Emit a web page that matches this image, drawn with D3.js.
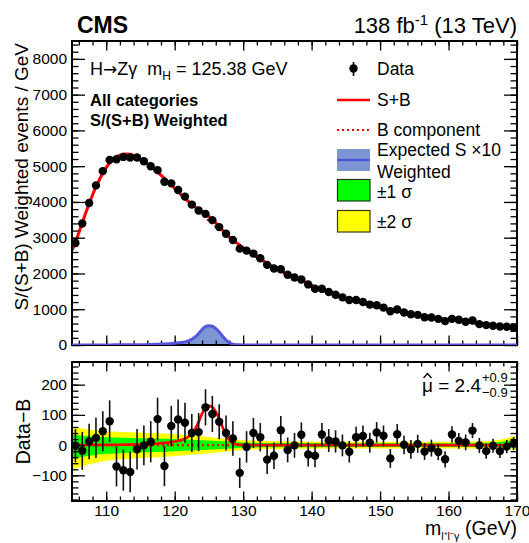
<!DOCTYPE html>
<html><head><meta charset="utf-8">
<script src="https://cdn.jsdelivr.net/npm/d3@7"></script>
<style>
body{margin:0;background:#fff}
svg{display:block}
text{font-family:"Liberation Sans",Arial,Helvetica,sans-serif;fill:#000}
</style>
</head><body>
<svg id="c" width="529" height="543"></svg>
<script>
// ---------------- data ----------------
const binCenters = [105.5,106.5,107.5,108.5,109.5,110.5,111.5,112.5,113.5,114.5,115.5,116.5,117.5,118.5,119.5,120.5,121.5,122.5,123.5,124.5,125.5,126.5,127.5,128.5,129.5,130.5,131.5,132.5,133.5,134.5,135.5,136.5,137.5,138.5,139.5,140.5,141.5,142.5,143.5,144.5,145.5,146.5,147.5,148.5,149.5,150.5,151.5,152.5,153.5,154.5,155.5,156.5,157.5,158.5,159.5,160.5,161.5,162.5,163.5,164.5,165.5,166.5,167.5,168.5,169.5];
const weightedEvents = [2852,3398,3972,4463,4861,5176,5194,5259,5241,5241,5139,5000,4889,4565,4519,4333,4148,3926,3759,3667,3491,3296,3111,2935,2694,2639,2556,2426,2241,2139,2120,1963,1889,1833,1694,1574,1574,1481,1407,1333,1259,1259,1204,1130,1111,1046,944,991,907,861,843,778,769,731,667,731,704,648,685,583,556,537,519,509,491];
const dataMinusB = [-2,-19,12,24,46,79,-71,-83,-89,-14,-1,11,86,-69,63,85,74,40,43,125,103,77,40,22,-92,-6,40,26,-48,-35,49,-16,-1,34,-31,-35,35,15,12,-1,-22,26,30,8,42,31,-44,36,1,-14,4,-21,-10,-23,-47,35,14,9,48,-1,-20,-2,-20,-5,5];
const dataErr = [55,63,59,67,66,69,66,68,67,67,66,68,71,67,67,66,66,63,63,60,60,58,58,57,50,52,50,47,48,44,47,41,41,41,40,38,38,38,37,36,36,35,35,33,34,34,31,34,31,31,30,28,28,27,27,27,26,26,25,25,25,23,23,22,22];

// fitted curves
const curveMass = [105,105.5,106,106.5,107,107.5,108,108.5,109,109.5,110,110.5,111,111.5,112,112.5,113,113.5,114,114.5,115,115.5,116,116.5,117,117.5,118,118.5,119,119.5,120,120.5,121,121.5,122,122.5,123,123.5,124,124.5,125,125.5,126,126.5,127,127.5,128,128.5,129,129.5,130,131,132,133,134,135,136,137,138,139,140,142,144,146,148,150,152,154,156,158,160,162,164,166,168,170];
const bkgFit = [2650,2860,3140,3410,3690,3950,4195,4420,4620,4800,4962,5095,5195,5262,5305,5330,5340,5330,5300,5258,5200,5140,5070,4990,4912,4830,4742,4650,4556,4460,4365,4270,4175,4080,3987,3895,3806,3720,3634,3550,3467,3385,3304,3225,3149,3075,3002,2930,2860,2790,2720,2580,2458,2345,2232,2122,2025,1935,1845,1762,1670,1502,1365,1255,1148,1045,968,890,818,765,705,650,608,560,526,482];
const sigExp10 = [1,1,1,1,1,2,2,2,2,3,3,3,4,4,5,5,6,6,7,8,9,10,11,15,18,22,26,30,35,42,50,60,72,88,115,160,225,320,435,512,540,525,460,365,245,140,65,25,9,4,2,1,0,0,0,0,0,0,0,0,0,0,0,0,0,0,0,0,0,0,0,0,0,0,0,0];
const muHat = 2.4;

// background uncertainty bands in Data-B panel
const bandMass = [105,107.5,110,112.5,115,117.5,120,122.5,125,127.5,130,135,140,145,150,155,160,165,167.5,170];
const band2Up = [60,52,46,43,41,39,36,32,27,21,16,13,12,11,11,11,11,13,18,32];
const band2Dn = [80,63,52,46,43,41,36,32,27,21,16,13,12,11,11,11,11,12,13,15];
const band1Up = [35,29,26,24,23,22,20,18,15,12,9,7,7,6,6,6,6,7,10,19];
const band1Dn = [45,35,29,26,24,23,20,18,15,12,9,7,7,6,6,6,6,6,7,9];

const xMajorTicks = [110,120,130,140,150,160,170];
const yTopTicks = [0,1000,2000,3000,4000,5000,6000,7000,8000];
const yBotTicks = [-100,0,100,200];

// ---------------- layout ----------------
const L=72,R=517,T1=41,B1=345,T2=362,B2=501;
const svg = d3.select("#c");
const x = d3.scaleLinear().domain([105,170]).range([L,R]);
const y1 = d3.scaleLinear().domain([0,8500]).range([B1,T1]);
const y2 = d3.scaleLinear().domain([-185,275]).range([B2,T2]);

const defs = svg.append("defs");
defs.append("clipPath").attr("id","cp1").append("rect").attr("x",L).attr("y",T1).attr("width",R-L).attr("height",B1-T1);
defs.append("clipPath").attr("id","cp2").append("rect").attr("x",L).attr("y",T2).attr("width",R-L).attr("height",B2-T2);

const red="#ff0000", sigLine="#5555dd", sigFill="#7b96d3";

// ---------------- top panel ----------------
const g1 = svg.append("g").attr("clip-path","url(#cp1)");
g1.append("path").datum(sigExp10)
  .attr("d", d3.area().x((d,i)=>x(curveMass[i])).y0(y1(0)).y1(d=>y1(d)).curve(d3.curveMonotoneX))
  .attr("fill",sigFill);
g1.append("path").datum(bkgFit)
  .attr("d", d3.line().x((d,i)=>x(curveMass[i])).y(d=>y1(d)).curve(d3.curveMonotoneX))
  .attr("fill","none").attr("stroke",red).attr("stroke-width",2).attr("stroke-dasharray","2,3");
g1.append("path").datum(bkgFit.map((b,i)=>b+sigExp10[i]*muHat/10))
  .attr("d", d3.line().x((d,i)=>x(curveMass[i])).y(d=>y1(d)).curve(d3.curveMonotoneX))
  .attr("fill","none").attr("stroke",red).attr("stroke-width",3);
g1.selectAll("line.eb").data(weightedEvents).join("line")
  .attr("x1",(d,i)=>x(binCenters[i])).attr("x2",(d,i)=>x(binCenters[i]))
  .attr("y1",(d,i)=>y1(d+dataErr[i])).attr("y2",(d,i)=>y1(d-dataErr[i]))
  .attr("stroke","#000").attr("stroke-width",1.6);
g1.selectAll("circle").data(weightedEvents).join("circle")
  .attr("cx",(d,i)=>x(binCenters[i])).attr("cy",d=>y1(d)).attr("r",4.2).attr("fill","#000");

// ---------------- bottom panel ----------------
const g2 = svg.append("g").attr("clip-path","url(#cp2)");
g2.append("path").datum(bandMass)
  .attr("d", d3.area().x(d=>x(d)).y0((d,i)=>y2(-band2Dn[i])).y1((d,i)=>y2(band2Up[i])).curve(d3.curveMonotoneX))
  .attr("fill","#ffff00");
g2.append("path").datum(bandMass)
  .attr("d", d3.area().x(d=>x(d)).y0((d,i)=>y2(-band1Dn[i])).y1((d,i)=>y2(band1Up[i])).curve(d3.curveMonotoneX))
  .attr("fill","#00ff00");
g2.append("path").datum(curveMass)
  .attr("d", d3.line().x(d=>x(d)).y(()=>y2(0)))
  .attr("fill","none").attr("stroke",red).attr("stroke-width",2.2).attr("stroke-dasharray","2,3");
g2.append("path").datum(sigExp10.map(s=>s*muHat/10))
  .attr("d", d3.line().x((d,i)=>x(curveMass[i])).y(d=>y2(d)).curve(d3.curveMonotoneX))
  .attr("fill","none").attr("stroke",red).attr("stroke-width",2.7);
g2.selectAll("line.eb").data(dataMinusB).join("line")
  .attr("x1",(d,i)=>x(binCenters[i])).attr("x2",(d,i)=>x(binCenters[i]))
  .attr("y1",(d,i)=>y2(d+dataErr[i])).attr("y2",(d,i)=>y2(d-dataErr[i]))
  .attr("stroke","#111").attr("stroke-width",1.6);
g2.selectAll("circle").data(dataMinusB).join("circle")
  .attr("cx",(d,i)=>x(binCenters[i])).attr("cy",d=>y2(d)).attr("r",4.2).attr("fill","#000");

// ---------------- axes ----------------
function styleAxis(g, fs){
  g.select(".domain").remove();
  g.selectAll("line").attr("stroke","#000").attr("stroke-width",1.3);
  g.selectAll("text").attr("font-size",fs).attr("font-family","Liberation Sans, Arial, sans-serif").attr("fill","#000");
  return g;
}
const xMinor = d3.range(106,171,2);
const fmtMinus = d => d<0 ? "\u2212"+Math.abs(d) : String(d);
function panelAxes(ys, top, bot, yMaj, yMin, showX){
  styleAxis(svg.append("g").attr("transform",`translate(${L},0)`).call(d3.axisLeft(ys).tickValues(yMaj).tickSize(-13).tickPadding(5).tickFormat(fmtMinus)),15.5);
  styleAxis(svg.append("g").attr("transform",`translate(${L},0)`).call(d3.axisLeft(ys).tickValues(yMin).tickSize(-6.5).tickFormat("")),15);
  styleAxis(svg.append("g").attr("transform",`translate(${R},0)`).call(d3.axisRight(ys).tickValues(yMaj).tickSize(-13).tickFormat("")),15);
  styleAxis(svg.append("g").attr("transform",`translate(${R},0)`).call(d3.axisRight(ys).tickValues(yMin).tickSize(-6.5).tickFormat("")),15);
  styleAxis(svg.append("g").attr("transform",`translate(0,${bot})`).call(d3.axisBottom(x).tickValues(xMajorTicks).tickSize(-9.5).tickPadding(4).tickFormat(showX? d3.format("d") : "")),15.5);
  styleAxis(svg.append("g").attr("transform",`translate(0,${bot})`).call(d3.axisBottom(x).tickValues(xMinor).tickSize(-4.5).tickFormat("")),15);
  styleAxis(svg.append("g").attr("transform",`translate(0,${top})`).call(d3.axisTop(x).tickValues(xMajorTicks).tickSize(-9.5).tickFormat("")),15);
  styleAxis(svg.append("g").attr("transform",`translate(0,${top})`).call(d3.axisTop(x).tickValues(xMinor).tickSize(-4.5).tickFormat("")),15);
  svg.append("rect").attr("x",L).attr("y",top).attr("width",R-L).attr("height",bot-top)
    .attr("fill","none").attr("stroke","#000").attr("stroke-width",2);
}
panelAxes(y1,T1,B1,yTopTicks,d3.range(0,8500,200),false);
panelAxes(y2,T2,B2,yBotTicks,d3.range(-180,275,20),true);

// expected signal line drawn above the frame so the zero part stays visible
svg.append("g").attr("clip-path","url(#cp1)").append("path").datum(sigExp10)
  .attr("d", d3.line().x((d,i)=>x(curveMass[i])).y(d=>y1(d)).curve(d3.curveMonotoneX))
  .attr("fill","none").attr("stroke",sigLine).attr("stroke-width",3);

// ---------------- titles ----------------
svg.append("text").attr("x",77).attr("y",33).attr("font-size",23).attr("font-weight","bold").text("CMS");
const lumi = svg.append("text").attr("x",517).attr("y",33).attr("font-size",22).attr("text-anchor","end");
lumi.append("tspan").text("138 fb");
lumi.append("tspan").attr("dy",-8).attr("font-size",15).text("-1");
lumi.append("tspan").attr("dy",8).text(" (13 TeV)");

svg.append("text").attr("transform","translate(28,43) rotate(-90)").attr("text-anchor","end").attr("font-size",19)
  .text("S/(S+B) Weighted events / GeV");
svg.append("text").attr("transform",`translate(30,${(T2+B2)/2}) rotate(-90)`).attr("text-anchor","middle").attr("font-size",19.5)
  .text("Data\u2212B");
const xt = svg.append("text").attr("x",517).attr("y",535).attr("font-size",19.5).attr("text-anchor","end");
xt.append("tspan").text("m");
xt.append("tspan").attr("dy",5).attr("font-size",11).text("l\u207Al\u207B\u03B3");
xt.append("tspan").attr("dy",-5).text(" (GeV)");

// annotations
const ann = svg.append("text").attr("x",90).attr("y",75).attr("font-size",18);
ann.append("tspan").text("H");
ann.append("tspan").attr("font-family","DejaVu Sans").attr("font-size",17).text("\u2192");
ann.append("tspan").text("Z\u03B3\u00A0\u00A0m");
ann.append("tspan").attr("dy",5).attr("font-size",12).text("H");
ann.append("tspan").attr("dy",-5).text(" = 125.38 GeV");
svg.append("text").attr("x",90).attr("y",106).attr("font-size",16.5).attr("font-weight","bold").text("All categories");
svg.append("text").attr("x",90).attr("y",126).attr("font-size",16.5).attr("font-weight","bold").text("S/(S+B) Weighted");

// mu hat
const muX = 422, muY = 392;
const mu = svg.append("text").attr("x",muX).attr("y",muY).attr("font-size",19).text("\u03BC = 2.4");
const muW = mu.node().getComputedTextLength();
svg.append("path").attr("d",`M${muX+1.5},${muY-14} L${muX+5.5},${muY-18.5} L${muX+9.5},${muY-14}`)
  .attr("fill","none").attr("stroke","#000").attr("stroke-width",1.3);
svg.append("text").attr("x",muX+muW+1).attr("y",muY-10).attr("font-size",13).text("+0.9");
svg.append("text").attr("x",muX+muW+1).attr("y",muY+5).attr("font-size",13).text("\u22120.9");

// ---------------- legend ----------------
const lg = svg.append("g");
const tx = 377, fs = 17.5;
lg.append("line").attr("x1",353.5).attr("x2",353.5).attr("y1",62).attr("y2",76).attr("stroke","#000").attr("stroke-width",1.6);
lg.append("circle").attr("cx",353.5).attr("cy",68.5).attr("r",4.2).attr("fill","#000");
lg.append("text").attr("x",tx).attr("y",75).attr("font-size",fs).text("Data");
lg.append("line").attr("x1",337).attr("x2",370).attr("y1",100).attr("y2",100).attr("stroke",red).attr("stroke-width",2.7);
lg.append("text").attr("x",tx).attr("y",106).attr("font-size",fs).text("S+B");
lg.append("line").attr("x1",337).attr("x2",370).attr("y1",130).attr("y2",130).attr("stroke",red).attr("stroke-width",2.2).attr("stroke-dasharray","2,3");
lg.append("text").attr("x",tx).attr("y",136).attr("font-size",fs).text("B component");
lg.append("rect").attr("x",337).attr("y",149).attr("width",33).attr("height",22).attr("fill",sigFill);
lg.append("line").attr("x1",337).attr("x2",370).attr("y1",160).attr("y2",160).attr("stroke",sigLine).attr("stroke-width",2.5);
lg.append("text").attr("x",tx).attr("y",155.5).attr("font-size",fs).text("Expected S \u00D710");
lg.append("text").attr("x",tx).attr("y",178).attr("font-size",fs).text("Weighted");
lg.append("rect").attr("x",337.5).attr("y",179.5).attr("width",32.5).attr("height",21.5).attr("fill","#00ff00").attr("stroke","#1a3a1a").attr("stroke-width",1.2);
lg.append("text").attr("x",tx).attr("y",198).attr("font-size",fs).text("\u00B11 \u03C3");
lg.append("rect").attr("x",337.5).attr("y",210.5).attr("width",32.5).attr("height",21.5).attr("fill","#ffff00").attr("stroke","#3a3a1a").attr("stroke-width",1.2);
lg.append("text").attr("x",tx).attr("y",228).attr("font-size",fs).text("\u00B12 \u03C3");
</script>
</body></html>
